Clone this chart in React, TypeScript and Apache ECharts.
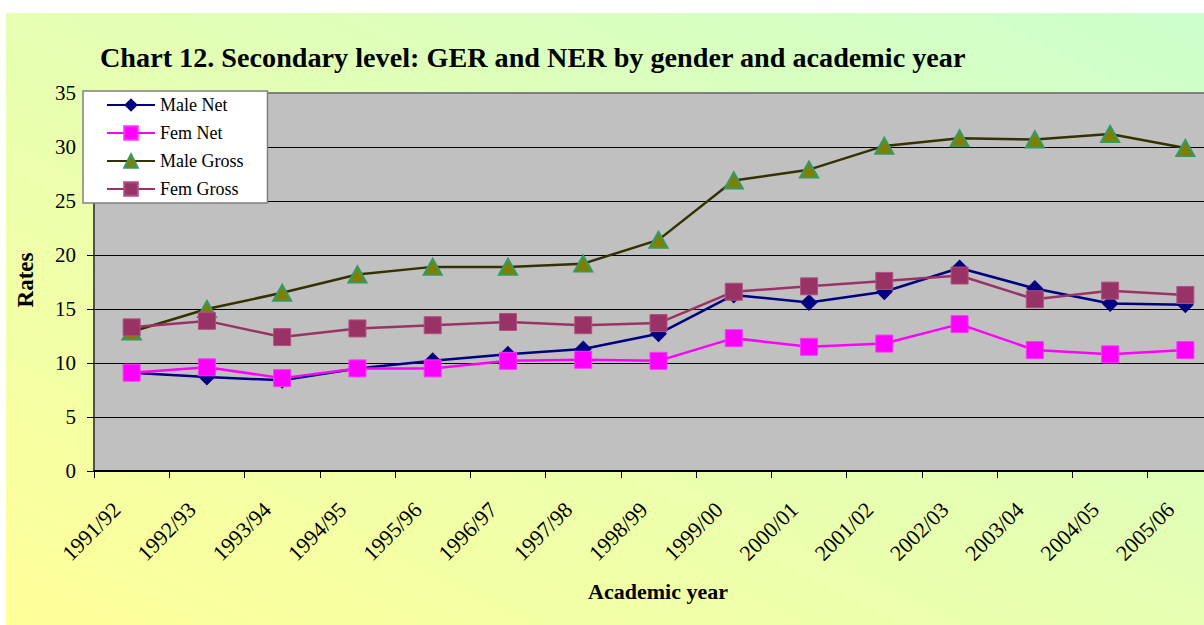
import React, { useEffect, useRef } from 'react';
import * as echarts from 'echarts';

const categories = ['1991/92', '1992/93', '1993/94', '1994/95', '1995/96', '1996/97', '1997/98', '1998/99', '1999/00', '2000/01', '2001/02', '2002/03', '2003/04', '2004/05', '2005/06'];
const maleNet = [9.1, 8.7, 8.4, 9.5, 10.2, 10.8, 11.3, 12.7, 16.3, 15.6, 16.6, 18.8, 16.9, 15.5, 15.4];
const femNet = [9.1, 9.6, 8.6, 9.5, 9.5, 10.2, 10.3, 10.2, 12.3, 11.5, 11.8, 13.6, 11.2, 10.8, 11.2];
const maleGross = [12.9, 15.0, 16.5, 18.2, 18.9, 18.9, 19.2, 21.4, 26.9, 27.9, 30.1, 30.8, 30.7, 31.2, 29.9];
const femGross = [13.3, 13.9, 12.4, 13.2, 13.5, 13.8, 13.5, 13.7, 16.6, 17.1, 17.6, 18.1, 15.9, 16.7, 16.3];
const yTicks = { min: 0, max: 35, interval: 5 };

const FONT = "'Liberation Serif', 'Times New Roman', serif";

export default function App() {
  const ref = useRef<HTMLDivElement>(null);
  useEffect(() => {
    const chart = echarts.init(ref.current as HTMLDivElement, null, { renderer: 'svg' });
    chart.setOption({
      animation: false,
      textStyle: { fontFamily: FONT, color: '#000' },
      grid: {
        left: 94,
        top: 93,
        right: 0,
        bottom: 154,
        show: true,
        backgroundColor: '#c0c0c0',
        borderColor: '#808080',
        borderWidth: 2,
      },
      legend: {
        orient: 'vertical',
        left: 83,
        top: 91,
        backgroundColor: '#ffffff',
        borderColor: '#808080',
        borderWidth: 1.5,
        borderRadius: 0,
        padding: [5, 24, 5, 23],
        itemWidth: 48,
        itemHeight: 17,
        itemGap: 10,
        textStyle: { fontFamily: FONT, fontSize: 18, color: '#000' },
        data: ['Male Net', 'Fem Net', 'Male Gross', 'Fem Gross'],
      },
      xAxis: {
        type: 'category',
        data: categories,
        boundaryGap: true,
        axisLine: { show: true, lineStyle: { color: '#000', width: 2 } },
        axisTick: { show: true, interval: 0, length: 7, lineStyle: { color: '#000', width: 1 } },
        axisLabel: {
          interval: 0,
          rotate: 45,
          fontFamily: FONT,
          fontSize: 22,
          color: '#000',
          margin: 20,
          padding: [0, 21, 0, 0],
        },
        splitLine: { show: false },
      },
      yAxis: {
        type: 'value',
        min: yTicks.min,
        max: yTicks.max,
        interval: yTicks.interval,
        axisLine: { show: true, lineStyle: { color: '#404040', width: 1.5 } },
        axisTick: { show: true, length: 7, lineStyle: { color: '#000', width: 1 } },
        axisLabel: { fontFamily: FONT, fontSize: 21, color: '#000', margin: 18 },
        splitLine: { show: true, showMaxLine: false, lineStyle: { color: '#000', width: 1 } },
      },
      graphic: [
        {
          type: 'text',
          x: 100,
          y: 57,
          style: {
            text: 'Chart 12. Secondary level: GER and NER by gender and academic year',
            font: `bold 28.2px ${FONT}`,
            fill: '#000',
            textAlign: 'left',
            textVerticalAlign: 'middle',
          },
        },
        {
          type: 'text',
          x: 25,
          y: 280,
          rotation: Math.PI / 2,
          style: {
            text: 'Rates',
            font: `bold 23px ${FONT}`,
            fill: '#000',
            textAlign: 'center',
            textVerticalAlign: 'middle',
          },
        },
        {
          type: 'text',
          x: 658,
          y: 591,
          style: {
            text: 'Academic year',
            font: `bold 22px ${FONT}`,
            fill: '#000',
            textAlign: 'center',
            textVerticalAlign: 'middle',
          },
        },
      ],
      series: [
        {
          name: 'Male Net',
          type: 'line',
          data: maleNet,
          symbol: 'diamond',
          symbolSize: 17,
          lineStyle: { color: '#000080', width: 2.5 },
          itemStyle: { color: '#000080' },
        },
        {
          name: 'Fem Net',
          type: 'line',
          data: femNet,
          symbol: 'rect',
          symbolSize: 17,
          lineStyle: { color: '#ff00ff', width: 2.5 },
          itemStyle: { color: '#ff00ff', borderColor: '#ff33ff', borderWidth: 1 },
        },
        {
          name: 'Male Gross',
          type: 'line',
          data: maleGross,
          symbol: 'triangle',
          symbolSize: [18, 16],
          lineStyle: { color: '#333300', width: 2.5 },
          itemStyle: { color: '#808000', borderColor: '#339966', borderWidth: 2 },
        },
        {
          name: 'Fem Gross',
          type: 'line',
          data: femGross,
          symbol: 'rect',
          symbolSize: 17,
          lineStyle: { color: '#993366', width: 2.5 },
          itemStyle: { color: '#993366', borderColor: '#b0507f', borderWidth: 1 },
        },
      ],
    });
    return () => chart.dispose();
  }, []);
  return (
    <div style={{ position: 'fixed', left: 0, top: 0, width: 1204, height: 625, overflow: 'hidden', background: '#ffffff' }}>
      <div
        style={{
          position: 'absolute',
          left: 6,
          top: 13,
          width: 1217,
          height: 612,
          background: 'linear-gradient(to top right, #ffff99, #ccffcc)',
        }}
      />
      <div ref={ref} style={{ position: 'absolute', left: 0, top: 0, width: 1223, height: 625 }} />
    </div>
  );
}
